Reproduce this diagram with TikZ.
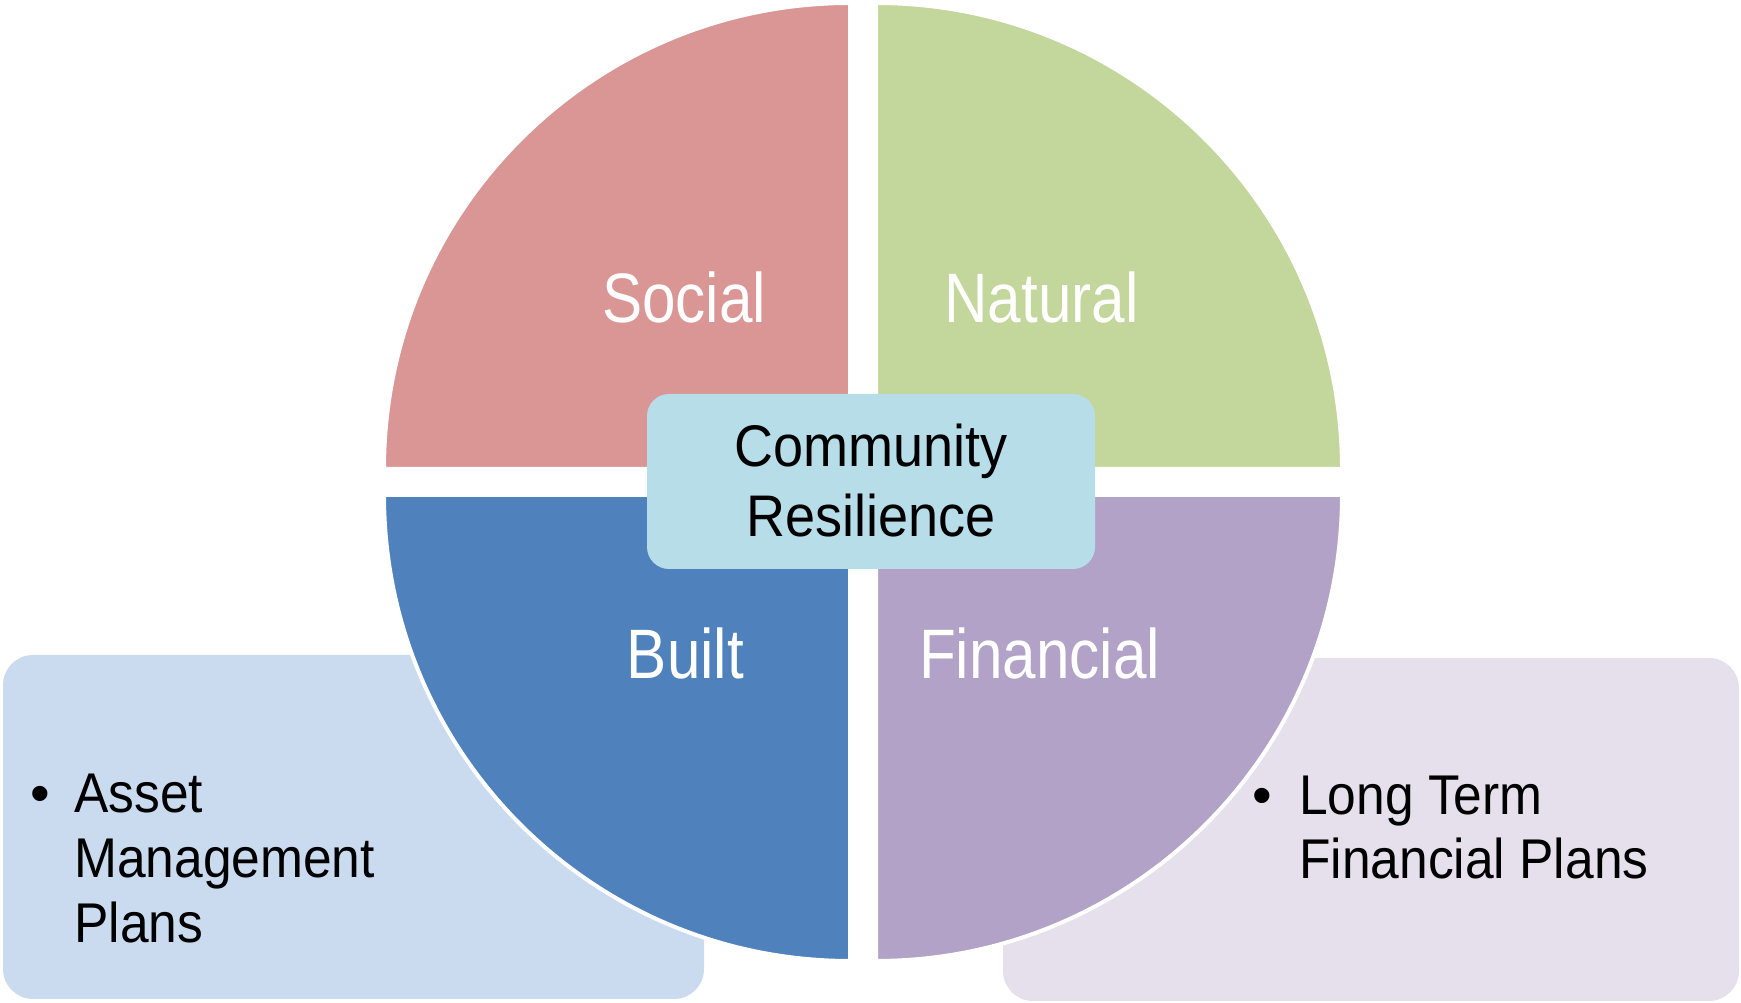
\documentclass[tikz,border=0pt]{standalone}
\usepackage{fontspec}
\setmainfont{Liberation Sans}
\newfontfamily\quadfont[FakeStretch=0.86]{Liberation Sans}
\newfontfamily\bodyfont[FakeStretch=0.92]{Liberation Sans}
\definecolor{socialc}{HTML}{D99694}
\definecolor{naturalc}{HTML}{C3D69B}
\definecolor{builtc}{HTML}{4F81BD}
\definecolor{financialc}{HTML}{B2A2C7}
\definecolor{corec}{HTML}{B7DDE8}
\definecolor{assetc}{HTML}{CADBF0}
\definecolor{planc}{HTML}{E5E0EC}
\begin{document}
\begin{tikzpicture}[x=1pt,y=1pt,
  quad/.style={draw=white, line width=4pt, line join=round},
  panel/.style={rounded corners=30pt},
  quadlabel/.style={text=white, font=\quadfont\fontsize{70}{84}\selectfont, inner sep=0pt, anchor=base},
  coretext/.style={text=black, font=\bodyfont\fontsize{58.7}{70}\selectfont, inner sep=0pt, anchor=base},
  bodytext/.style={text=black, font=\bodyfont\fontsize{56}{65}\selectfont, inner sep=0pt, anchor=base west},
  bulletmark/.style={text=black, font=\fontsize{56}{65}\selectfont, inner sep=0pt, anchor=base}]
\useasboundingbox (0,0) rectangle (1741,1003);

% side panels, partly covered by the lower quadrants
\fill[assetc, panel] (3,4) rectangle (704,348);
\fill[planc, panel] (1003,2) rectangle (1739,345);

% the four quadrants of the circle
\path[quad, fill=socialc]    (850,534) -- (384,534) arc[start angle=180, end angle=90, radius=466] -- cycle;
\path[quad, fill=naturalc]   (876,534) -- (876,1000) arc[start angle=90, end angle=0, radius=466] -- cycle;
\path[quad, fill=builtc]     (850,508) -- (384,508) arc[start angle=180, end angle=270, radius=466] -- cycle;
\path[quad, fill=financialc] (876,508) -- (1342,508) arc[start angle=0, end angle=-90, radius=466] -- cycle;

% quadrant labels
\node[quadlabel] (social)    at (684,680)    {Social};
\node[quadlabel] (natural)   at (1041.5,680) {Natural};
\node[quadlabel] (built)     at (685.5,324)  {Built};
\node[quadlabel] (financial) at (1039.5,324) {Financial};

% central box
\node[fill=corec, rounded corners=22pt, minimum width=448pt, minimum height=175pt, inner sep=0pt] (core) at (871,521.5) {};
\node[coretext] (core1) at (871,536) {Community};
\node[coretext] (core2) at (871,466) {Resilience};

% left panel text
\node[bulletmark] (b1) at (40,190) {•};
\node[bodytext] (am1) at (74,190) {Asset};
\node[bodytext] (am2) at (74,125) {Management};
\node[bodytext] (am3) at (74,60)  {Plans};

% right panel text
\node[bulletmark] (b2) at (1262,188) {•};
\node[bodytext] (lt1) at (1299,188) {Long Term};
\node[bodytext] (lt2) at (1299,124) {Financial Plans};
\end{tikzpicture}
\end{document}
